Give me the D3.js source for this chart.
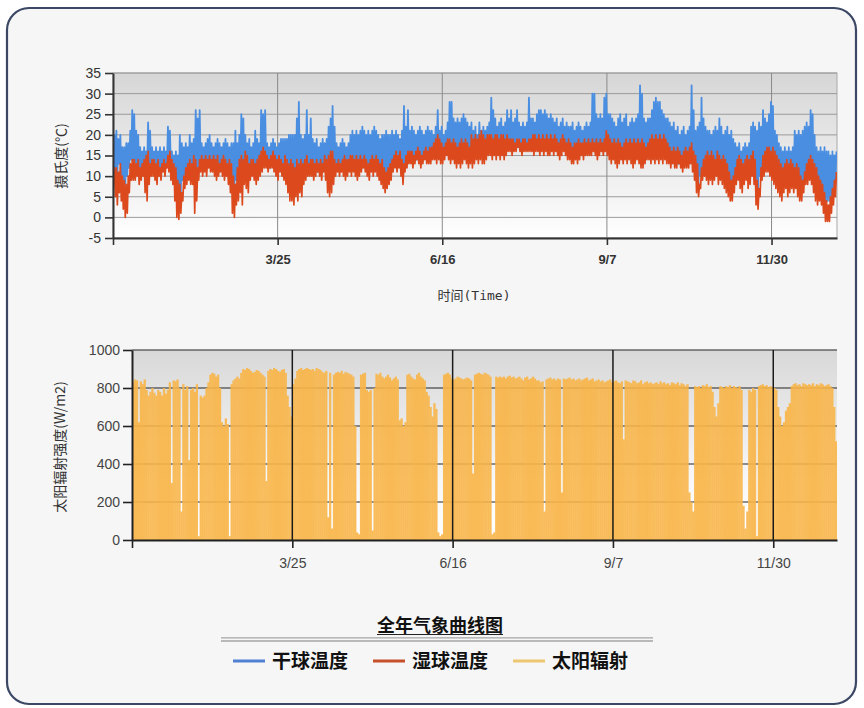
<!DOCTYPE html>
<html><head><meta charset="utf-8">
<script src="https://cdn.jsdelivr.net/npm/d3@7"></script>
<style>body{margin:0;background:#fff}svg{display:block}</style>
</head><body><svg id="c" width="864" height="708"></svg>
<script>
// ---- DATA (daily values) ----
const dryMax=[20,21,19,20,17,17,18,18,21,26,25,21,20,17,16,17,16,23,21,17,16,17,16,17,16,17,16,22,21,16,15,16,15,20,18,17,18,17,20,18,19,26,24,26,18,17,18,19,20,18,17,18,19,18,17,18,19,18,17,18,18,21,18,20,25,24,20,18,19,17,18,21,19,18,26,25,26,18,17,18,19,18,17,18,19,19,19,19,20,20,20,20,24,28,20,19,20,26,20,24,19,18,19,17,18,19,18,19,22,24,27,22,18,17,18,19,18,17,18,20,21,20,21,20,21,22,21,20,21,20,21,22,21,20,19,20,20,21,20,20,21,20,21,20,19,21,27,22,26,21,22,21,20,21,22,21,20,21,22,21,21,20,22,26,21,22,20,21,23,28,28,24,23,24,23,24,25,24,23,22,23,21,22,20,23,21,22,21,22,23,29,26,24,22,23,24,22,23,26,24,26,23,24,26,23,22,23,22,23,29,24,24,23,25,26,26,25,26,25,24,25,24,23,24,22,23,24,22,23,22,22,23,21,22,23,22,21,22,23,22,23,30,30,25,24,25,24,29,30,25,25,24,23,22,24,25,23,24,25,22,23,24,23,24,25,32,30,24,23,24,24,26,28,29,28,28,26,25,24,24,23,22,23,21,22,20,21,22,20,21,22,32,26,21,22,23,29,24,22,21,21,20,21,22,21,24,22,20,21,22,20,21,19,18,17,18,16,17,18,17,18,22,23,22,21,23,22,26,24,23,25,28,27,21,20,18,17,16,17,16,17,16,17,21,20,21,20,21,22,23,22,26,25,20,17,16,17,16,17,16,16,15,16,15,16];
const dryMin=[12,11,10,13,10,9,8,10,12,14,12,11,12,10,11,12,12,12,11,12,12,11,11,11,11,12,11,13,13,12,11,10,8,7,6,9,10,11,12,11,12,10,10,12,12,12,12,12,13,12,12,12,12,11,12,12,12,11,11,10,8,7,9,11,12,11,12,12,11,11,11,11,11,12,12,13,13,13,12,12,13,12,12,12,12,11,11,11,10,9,9,8,10,10,11,10,11,12,11,12,12,11,12,11,12,11,12,12,11,11,12,11,12,12,11,12,12,11,12,12,12,12,12,12,12,12,13,12,12,12,12,12,12,12,12,11,10,10,10,11,12,13,13,13,13,12,12,13,14,14,14,13,14,14,14,14,14,15,14,14,15,15,16,16,15,15,15,16,16,16,15,16,15,15,15,15,15,16,15,15,16,15,16,16,16,17,16,16,16,17,17,16,17,16,17,16,17,16,17,17,17,17,17,17,17,17,17,17,17,17,17,17,17,17,17,17,17,17,17,17,17,17,17,17,16,16,17,17,16,16,16,15,15,16,15,16,16,16,16,16,16,17,17,16,16,16,17,16,18,17,16,15,15,15,15,15,15,15,15,15,15,15,14,15,15,15,14,14,15,15,15,15,15,15,15,15,15,15,15,15,14,13,14,13,13,13,13,13,13,13,13,14,13,12,10,8,10,11,12,12,12,12,12,12,12,12,12,11,11,10,9,8,8,10,11,12,11,11,11,11,11,12,12,11,8,7,10,12,13,13,13,13,12,11,11,10,9,9,10,10,10,10,10,10,10,9,8,8,9,10,10,10,10,9,8,7,7,6,5,4,4,4,5,7,8];
const wetMax=[12,12,11,13,10,9,8,10,13,14,14,13,14,12,13,14,15,16,13,14,14,13,14,12,13,14,13,15,16,14,13,12,9,8,6,10,12,13,14,13,15,14,12,14,15,14,15,14,15,14,15,14,15,13,14,15,14,13,14,13,10,8,12,14,15,14,16,15,13,14,14,13,14,15,16,17,16,15,14,15,16,15,14,15,14,13,15,14,13,14,13,12,14,13,14,13,14,15,13,14,14,13,14,13,14,13,15,14,15,16,16,14,13,14,13,14,15,14,14,15,15,14,15,14,15,14,15,14,13,14,15,14,15,14,13,14,12,11,12,13,14,15,16,15,16,14,13,15,16,16,16,15,16,17,16,15,16,17,16,17,17,18,19,20,19,18,17,18,19,19,18,19,18,17,18,19,18,19,18,17,20,19,20,19,20,21,20,19,20,20,20,19,20,20,19,20,20,19,20,19,19,19,18,19,19,18,19,19,18,19,19,20,20,19,20,19,20,19,20,19,20,19,20,19,18,19,20,19,18,19,18,17,18,18,19,18,18,19,18,19,18,19,18,19,18,19,18,19,21,20,19,18,19,18,19,18,17,18,19,18,19,18,19,18,19,18,19,18,17,18,19,20,19,20,19,20,19,20,19,18,17,16,17,16,17,16,15,16,17,16,17,18,16,15,13,8,12,14,15,16,15,16,15,14,16,15,14,15,14,13,11,9,10,12,14,15,14,13,14,15,14,15,16,14,9,7,12,15,16,17,17,16,17,16,15,14,13,12,13,14,13,14,13,12,13,12,10,9,11,13,14,15,14,13,12,10,9,8,6,4,3,5,7,9,11];
const wetMin=[8,5,3,6,4,2,0,1,6,9,9,9,10,8,9,10,6,4,8,10,10,9,8,10,9,11,10,12,11,9,8,4,0,-0.5,1,4,7,8,9,8,8,1,4,9,11,10,11,10,12,11,11,10,9,10,11,10,9,10,8,6,1,0,3,4,6,3,8,7,6,9,10,9,8,9,10,11,12,12,11,12,12,11,10,9,11,10,9,8,6,4,4,3,5,4,6,5,8,9,10,10,10,9,10,11,10,9,11,9,6,5,6,8,10,11,10,11,10,9,10,11,10,11,10,9,10,11,12,11,10,9,11,10,11,10,9,8,7,6,7,8,9,11,12,11,12,10,8,11,12,13,13,12,13,14,13,12,13,14,13,13,13,14,14,13,14,13,13,14,15,14,13,14,13,12,13,12,13,14,13,12,13,12,13,14,13,14,13,13,14,15,15,14,15,14,15,14,15,14,15,16,16,15,16,16,17,16,15,16,16,16,16,16,15,16,16,15,16,15,16,15,15,16,15,16,15,14,15,16,15,14,14,13,13,14,13,14,15,14,15,15,15,15,16,15,14,15,16,15,16,15,14,13,14,13,12,13,14,13,14,13,14,13,12,13,14,13,12,12,13,14,14,13,14,13,14,13,14,13,14,13,13,12,13,12,12,13,12,11,12,12,12,13,11,9,6,5,7,9,10,9,8,9,8,9,10,8,9,8,7,6,5,4,4,6,8,9,7,6,8,9,7,8,10,8,3,2,5,9,10,11,11,10,9,8,7,6,5,4,6,7,5,6,7,6,7,5,4,4,6,8,8,9,8,6,4,3,4,3,1,-1,-1,-1,1,3,5];
const solarPeak=[830,845,840,620,835,820,845,790,760,780,800,775,760,790,780,760,800,770,790,830,300,840,835,845,800,150,820,790,810,420,790,800,780,820,20,760,750,760,800,830,870,880,875,860,870,800,620,600,640,610,20,820,840,850,860,850,880,900,895,905,900,890,880,885,895,890,880,870,860,310,890,900,895,905,900,890,885,895,900,880,760,700,650,820,850,890,900,905,895,900,905,900,895,900,890,905,900,895,885,880,890,120,880,60,870,880,885,880,890,875,885,880,875,870,860,600,40,30,870,875,880,790,780,790,50,800,875,870,880,860,850,860,870,855,840,850,860,845,630,640,600,620,870,875,860,850,845,870,880,860,850,840,780,760,700,650,720,690,40,20,30,870,875,880,870,850,845,850,860,855,850,845,850,855,850,840,350,870,875,880,875,870,880,875,870,860,30,40,860,855,860,855,860,850,860,865,855,860,850,855,860,850,840,855,860,845,850,860,850,840,840,830,835,150,845,850,855,845,850,840,850,845,250,850,845,850,855,845,850,840,845,850,840,845,850,855,840,845,850,835,840,845,835,840,830,835,840,845,830,835,840,830,825,835,530,840,835,830,825,840,835,825,830,840,820,830,835,825,830,820,825,830,820,835,825,830,820,825,815,830,825,820,830,815,825,820,810,820,250,200,150,810,805,810,800,815,810,820,805,810,780,700,650,720,810,805,800,810,805,815,800,810,805,800,810,790,180,60,150,790,780,800,790,20,810,815,820,810,815,805,810,805,800,790,700,650,600,620,680,700,720,810,820,825,815,820,810,825,820,815,820,815,825,810,820,815,825,820,810,815,820,810,800,700,520];
const tickDays=[0,83,166,249,332];
const tickLabels=["","3/25","6/16","9/7","11/30"];
const tempTicks=[-5,0,5,10,15,20,25,30,35];
const solarTicks=[0,200,400,600,800,1000];
const seriesNames=["干球温度","湿球温度","太阳辐射"];
const seriesColors=["#4a8ee2","#dc491d","#f8b548"];
const legendColors=["#4f80d2","#c6502b","#ecc671"];
const titleText="全年气象曲线图";

// ---- DRAW ----
const svg=d3.select("#c");
const CJK="'Noto Sans CJK SC','Noto Sans',sans-serif";
const defs=svg.append("defs");
function grad(id,stops){const g=defs.append("linearGradient").attr("id",id).attr("x1",0).attr("y1",0).attr("x2",0).attr("y2",1);
 stops.forEach(s=>g.append("stop").attr("offset",s[0]).attr("stop-color",s[1]));}
grad("gTop",[[0,"#d6d6d6"],[0.35,"#e4e4e4"],[0.75,"#f4f4f4"],[1,"#ffffff"]]);
grad("gBot",[[0,"#d8d8d8"],[0.3,"#e6e6e6"],[0.7,"#f8f8f8"],[1,"#ffffff"]]);

svg.append("rect").attr("x",7).attr("y",8).attr("width",849).attr("height",696).attr("rx",22)
 .attr("fill","#f6f6f6").attr("stroke","#3b4764").attr("stroke-width",2.2);

// top chart
const x1=d3.scaleLinear().domain([0,365]).range([113,837]);
const y1=d3.scaleLinear().domain([-5,35]).range([238,73]);
defs.append("clipPath").attr("id","c1").append("rect").attr("x",113).attr("y",73).attr("width",724).attr("height",165);
svg.append("rect").attr("x",113).attr("y",73).attr("width",724).attr("height",165).attr("fill","url(#gTop)").attr("stroke","#a8a8a8");
const gg1=svg.append("g");
tempTicks.forEach(t=>gg1.append("line").attr("x1",113).attr("x2",837).attr("y1",y1(t)).attr("y2",y1(t)).attr("stroke","#9a9a9a").attr("stroke-width",1));
tickDays.slice(1).forEach(d=>gg1.append("line").attr("x1",x1(d)).attr("x2",x1(d)).attr("y1",73).attr("y2",238).attr("stroke","#8a8a8a").attr("stroke-width",1));

function zig(minArr,maxArr){const pts=[];minArr.forEach((v,i)=>{pts.push([i+0.2,v]);pts.push([i+0.7,maxArr[i]]);});return pts;}
const ln1=d3.line().x(p=>x1(p[0])).y(p=>y1(p[1]));
const lines=svg.append("g").attr("clip-path","url(#c1)");
lines.append("path").attr("d",ln1(zig(dryMin,dryMax))).attr("fill","none").attr("stroke",seriesColors[0]).attr("stroke-width",1.8).attr("stroke-linejoin","round");
lines.append("path").attr("d",ln1(zig(wetMin,wetMax))).attr("fill","none").attr("stroke",seriesColors[1]).attr("stroke-width",1.7).attr("stroke-linejoin","round");

const ax1=svg.append("g").attr("transform","translate(113,0)")
 .call(d3.axisLeft(y1).tickValues(tempTicks).tickFormat(d=>String(d)).tickSize(8).tickSizeOuter(0).tickPadding(4));
const bx1=svg.append("g").attr("transform","translate(0,238)")
 .call(d3.axisBottom(x1).tickValues(tickDays).tickFormat((d,i)=>tickLabels[i]).tickSize(7).tickSizeOuter(0).tickPadding(10));
[ax1,bx1].forEach(a=>{a.select(".domain").attr("stroke","#333").attr("stroke-width",2);a.selectAll(".tick line").attr("stroke","#333").attr("stroke-width",1.6);
 a.selectAll("text").attr("font-family","'Liberation Sans',Arial,sans-serif").attr("font-size",13).attr("fill","#333");});
ax1.selectAll("text").attr("font-size",14);
bx1.selectAll("text").attr("font-weight","bold");
svg.append("text").attr("transform","translate(66,156) rotate(-90)").attr("text-anchor","middle").attr("font-family",CJK).attr("font-size",14).attr("fill","#333").text("摄氏度(℃)");
svg.append("text").attr("x",474).attr("y",300).attr("text-anchor","middle").attr("font-family","'DejaVu Sans Mono','Noto Sans CJK SC',monospace").attr("font-size",13).attr("fill","#333").text("时间(Time)");

// bottom chart
const x2=d3.scaleLinear().domain([0,365]).range([132,837]);
const y2=d3.scaleLinear().domain([0,1000]).range([540,350]);
defs.append("clipPath").attr("id","c2").append("rect").attr("x",132).attr("y",350).attr("width",705).attr("height",190);
svg.append("rect").attr("x",132).attr("y",350).attr("width",705).attr("height",190).attr("fill","url(#gBot)");
const gg2=svg.append("g");
solarTicks.forEach(t=>gg2.append("line").attr("x1",132).attr("x2",837).attr("y1",y2(t)).attr("y2",y2(t)).attr("stroke","#222").attr("stroke-width",1.2));
const dw=x2(1)-x2(0);
svg.append("g").attr("clip-path","url(#c2)").selectAll("rect").data(solarPeak).join("rect")
 .attr("x",(v,i)=>x2(i)).attr("width",dw+0.35).attr("y",v=>y2(v)).attr("height",v=>y2(0)-y2(v))
 .attr("fill",seriesColors[2]).attr("fill-opacity",0.9);
tickDays.slice(1).forEach(d=>svg.append("line").attr("x1",x2(d)).attr("x2",x2(d)).attr("y1",350).attr("y2",540).attr("stroke","#1a1a1a").attr("stroke-width",1.5));
const ax2=svg.append("g").attr("transform","translate(132,0)")
 .call(d3.axisLeft(y2).tickValues(solarTicks).tickFormat(d=>String(d)).tickSize(9).tickSizeOuter(0).tickPadding(3));
const bx2=svg.append("g").attr("transform","translate(0,540)")
 .call(d3.axisBottom(x2).tickValues(tickDays).tickFormat((d,i)=>tickLabels[i]).tickSize(8).tickSizeOuter(0).tickPadding(10));
[ax2,bx2].forEach(a=>{a.select(".domain").attr("stroke","#222").attr("stroke-width",2);a.selectAll(".tick line").attr("stroke","#222").attr("stroke-width",1.6);
 a.selectAll("text").attr("font-family","'Liberation Sans',Arial,sans-serif").attr("font-size",14).attr("fill","#444");});
svg.append("text").attr("transform","translate(65,447) rotate(-90)").attr("text-anchor","middle").attr("font-family",CJK).attr("font-size",14).attr("fill","#333").text("太阳辐射强度(W/m2)");

// title + legend
const tt=svg.append("text").attr("x",440).attr("y",632).attr("text-anchor","middle").attr("font-family",CJK).attr("font-weight","bold").attr("font-size",18).attr("fill","#111").text(titleText);
const bb=tt.node().getBBox();
svg.append("line").attr("x1",bb.x).attr("x2",bb.x+bb.width).attr("y1",634.5).attr("y2",634.5).attr("stroke","#222").attr("stroke-width",1);
[637.8,641].forEach(y=>svg.append("line").attr("x1",221).attr("x2",653).attr("y1",y).attr("y2",y).attr("stroke","#a5a5a5").attr("stroke-width",1.3));
const lg=svg.append("g");
seriesNames.forEach((n,i)=>{const x0=233+i*140;
 lg.append("line").attr("x1",x0).attr("x2",x0+32).attr("y1",661).attr("y2",661).attr("stroke",legendColors[i]).attr("stroke-width",3);
 lg.append("text").attr("x",x0+39).attr("y",661).attr("dy","0.35em").attr("font-family",CJK).attr("font-weight","bold").attr("font-size",19).attr("fill","#111").text(n);});
</script></body></html>
